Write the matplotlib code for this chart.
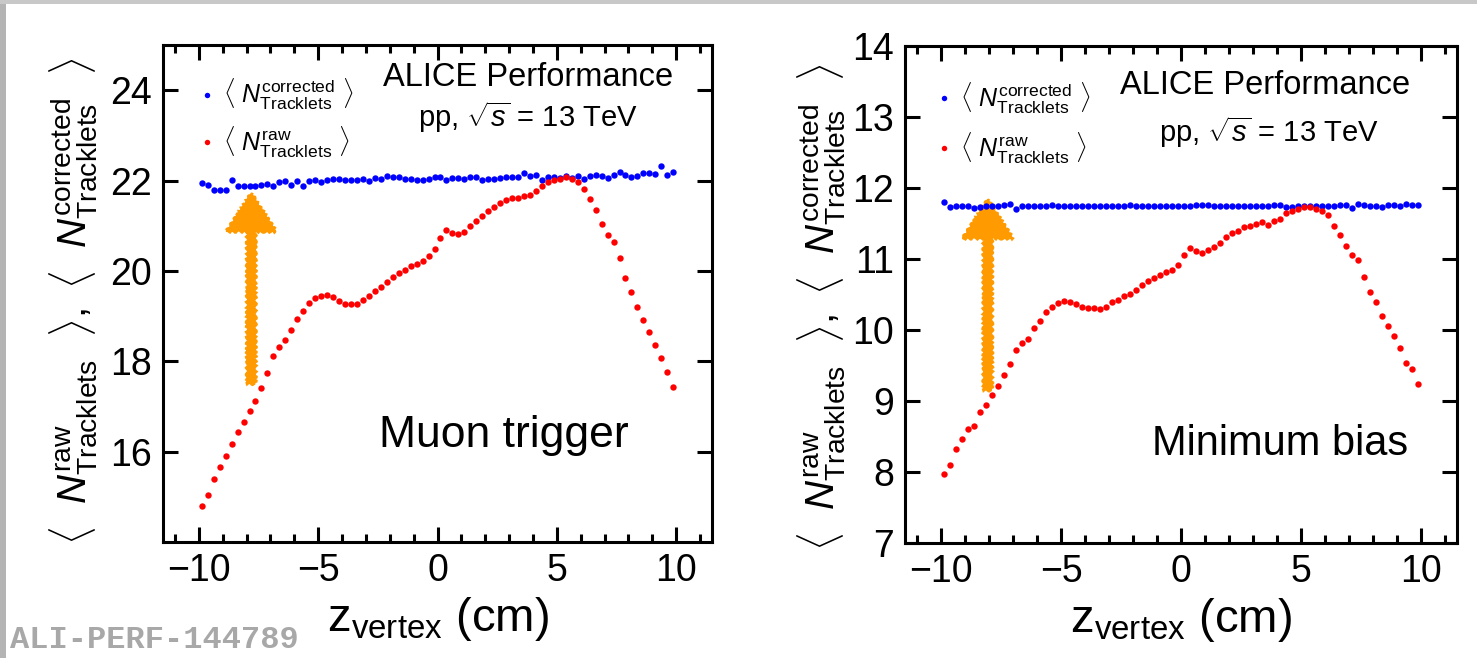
import numpy as np
import matplotlib
matplotlib.use("Agg")
import matplotlib.pyplot as plt
from matplotlib.ticker import MultipleLocator

plt.rcParams['font.family'] = ['Liberation Sans', 'DejaVu Sans']
plt.rcParams['mathtext.fontset'] = 'custom'
plt.rcParams['mathtext.rm'] = 'Liberation Sans'
plt.rcParams['mathtext.it'] = 'Liberation Sans:italic'
plt.rcParams['mathtext.bf'] = 'Liberation Sans:bold'

# ---------------- data ----------------
z_vertex = np.arange(-9.875, 10.0, 0.25)  # 80 bin centres (cm)

muon_raw = [14.79, 15.04, 15.40, 15.67, 15.90, 16.16, 16.43, 16.65, 16.89, 17.13,
            17.41, 17.73, 18.12, 18.32, 18.47, 18.70, 18.93, 19.11, 19.29, 19.41,
            19.44, 19.47, 19.42, 19.34, 19.27, 19.27, 19.27, 19.35, 19.44, 19.55,
            19.64, 19.76, 19.86, 19.95, 20.02, 20.10, 20.16, 20.23, 20.34, 20.48,
            20.73, 20.90, 20.83, 20.81, 20.87, 20.99, 21.11, 21.21, 21.32, 21.42,
            21.50, 21.57, 21.61, 21.62, 21.65, 21.69, 21.76, 21.88, 21.97, 22.02,
            22.04, 22.07, 22.04, 21.96, 21.82, 21.59, 21.35, 21.04, 20.79, 20.63,
            20.28, 19.85, 19.53, 19.21, 18.92, 18.65, 18.36, 18.07, 17.77, 17.42]

muon_corr = [21.95, 21.91, 21.79, 21.79, 21.79, 22.01, 21.87, 21.87, 21.87, 21.87,
             21.90, 21.93, 21.87, 21.97, 21.99, 21.90, 21.99, 21.88, 21.99, 22.01,
             21.97, 22.01, 22.03, 22.03, 22.01, 22.01, 22.01, 22.04, 21.98, 22.05,
             22.04, 22.10, 22.07, 22.07, 22.04, 22.04, 22.01, 22.02, 22.04, 22.08,
             22.07, 22.01, 22.05, 22.05, 22.03, 22.08, 22.08, 22.02, 22.04, 22.04,
             22.06, 22.07, 22.07, 22.07, 22.16, 22.11, 22.13, 22.02, 22.07, 22.07,
             22.05, 22.10, 22.05, 22.11, 22.04, 22.10, 22.12, 22.11, 22.06, 22.12,
             22.19, 22.13, 22.08, 22.11, 22.16, 22.16, 22.15, 22.33, 22.13, 22.19]

mb_raw = [7.97, 8.10, 8.32, 8.47, 8.60, 8.65, 8.85, 8.94, 9.09, 9.21,
          9.37, 9.52, 9.72, 9.81, 9.87, 10.03, 10.13, 10.26, 10.32, 10.38,
          10.41, 10.39, 10.36, 10.33, 10.31, 10.31, 10.29, 10.33, 10.39, 10.42,
          10.48, 10.51, 10.57, 10.63, 10.69, 10.73, 10.77, 10.82, 10.85, 10.92,
          11.05, 11.16, 11.11, 11.09, 11.13, 11.17, 11.23, 11.31, 11.36, 11.40,
          11.45, 11.46, 11.49, 11.52, 11.48, 11.53, 11.56, 11.65, 11.68, 11.71,
          11.73, 11.73, 11.71, 11.68, 11.62, 11.47, 11.34, 11.19, 11.05, 10.98,
          10.75, 10.53, 10.39, 10.20, 10.05, 9.91, 9.74, 9.54, 9.45, 9.24]

mb_corr = [11.80, 11.73, 11.74, 11.74, 11.74, 11.72, 11.73, 11.74, 11.74, 11.75,
           11.76, 11.77, 11.71, 11.75, 11.74, 11.74, 11.74, 11.74, 11.76, 11.74,
           11.74, 11.74, 11.74, 11.75, 11.75, 11.74, 11.75, 11.74, 11.74, 11.74,
           11.75, 11.76, 11.74, 11.74, 11.74, 11.75, 11.74, 11.75, 11.75, 11.75,
           11.74, 11.75, 11.76, 11.76, 11.76, 11.75, 11.75, 11.75, 11.75, 11.75,
           11.74, 11.74, 11.75, 11.75, 11.75, 11.76, 11.76, 11.73, 11.73, 11.75,
           11.75, 11.75, 11.74, 11.74, 11.74, 11.75, 11.76, 11.76, 11.72, 11.77,
           11.76, 11.74, 11.74, 11.73, 11.76, 11.76, 11.74, 11.78, 11.76, 11.76]

panel_names = ["Muon trigger", "Minimum bias"]
x_ticks = [-10, -5, 0, 5, 10]
y_ticks_muon = [16, 18, 20, 22, 24]
y_ticks_mb = [7, 8, 9, 10, 11, 12, 13, 14]

lab_corr = r'$\langle\ N^{\mathrm{corrected}}_{\mathrm{Tracklets}}\ \rangle$'
lab_raw = r'$\langle\ N^{\mathrm{raw}}_{\mathrm{Tracklets}}\ \rangle$'
ylab = (r'$\langle\ \ N^{\mathrm{raw}}_{\mathrm{Tracklets}}\ \ \rangle,\ '
        r'\langle\ \ N^{\mathrm{corrected}}_{\mathrm{Tracklets}}\ \ \rangle$')

W, H = 1477, 658
fig = plt.figure(figsize=(W / 100, H / 100), dpi=100)
fig.patch.set_facecolor('white')

# grey frame strips (screenshot border)
fig.add_artist(plt.Rectangle((0, 0), 6 / W, 1, transform=fig.transFigure,
                             color='#b4b4b4', lw=0, zorder=0))
fig.add_artist(plt.Rectangle((0, 1 - 4 / H), 1, 4 / H, transform=fig.transFigure,
                             color='#c8c8c8', lw=0, zorder=0))

ax1 = fig.add_axes([163 / W, 1 - 542 / H, 549 / W, 497 / H])
ax2 = fig.add_axes([905 / W, 1 - 543 / H, 552 / W, 497 / H])

configs = [
    dict(ax=ax1, corr=muon_corr, raw=muon_raw, ylim=(14, 25),
         yticks=y_ticks_muon, ylabx=-0.115, ylaby=0.485,
         arr=dict(x=-7.8, y0=17.5, y1=21.72, hl=0.85),
         alice=(0.665, 0.935), pp=(0.665, 0.855), name=(0.62, 0.215), namefs=32,
         leg=(0.03, 0.976), ls=0.5),
    dict(ax=ax2, corr=mb_corr, raw=mb_raw, ylim=(7, 14),
         yticks=y_ticks_mb, ylabx=-0.103, ylaby=0.475,
         arr=dict(x=-8.05, y0=9.15, y1=11.84, hl=0.55),
         alice=(0.652, 0.92), pp=(0.66, 0.826), name=(0.68, 0.2), namefs=30,
         leg=(0.021, 0.971), ls=0.6),
]

for k, c in enumerate(configs):
    ax = c['ax']
    hc, = ax.plot(z_vertex, c['corr'], 'o', color='#0000ff', ms=4.6, mew=0, zorder=3)
    hr, = ax.plot(z_vertex, c['raw'], 'o', color='#ff0000', ms=4.6, mew=0, zorder=3)
    ax.set_xlim(-11.5, 11.5)
    ax.set_ylim(*c['ylim'])
    ax.set_xticks(x_ticks)
    ax.set_yticks(c['yticks'])
    ax.xaxis.set_minor_locator(MultipleLocator(1))
    for s in ax.spines.values():
        s.set_linewidth(2.2)
    ax.tick_params(which='both', direction='in', top=True, right=True,
                   labelsize=27, width=2.2, pad=8)
    ax.tick_params(which='major', length=11)
    ax.tick_params(which='minor', length=6)
    ax.set_xlabel(r'$\mathrm{z}_{\mathrm{vertex}}$ (cm)', fontsize=34, labelpad=4)
    ax.set_ylabel(ylab, fontsize=29)
    ax.yaxis.set_label_coords(c['ylabx'], c['ylaby'])

    ax.legend([hc, hr], [lab_corr, lab_raw], loc='upper left',
              bbox_to_anchor=c['leg'], frameon=False, fontsize=18,
              handlelength=0.6, handletextpad=0.35, labelspacing=c['ls'],
              borderaxespad=0.4, markerscale=0.85)

    ax.text(*c['alice'], 'ALICE Performance', transform=ax.transAxes, fontsize=23.5,
            ha='center', va='center')
    ax.text(*c['pp'], r'pp, $\sqrt{s}$ = 13 TeV', transform=ax.transAxes, fontsize=21,
            ha='center', va='center')
    ax.text(*c['name'], panel_names[k], transform=ax.transAxes,
            fontsize=c['namefs'], ha='center', va='center')

    a = c['arr']
    arrow = ax.arrow(a['x'], a['y0'], 0, a['y1'] - a['y0'], width=0.36,
                     head_width=2.1, head_length=a['hl'], length_includes_head=True,
                     color='#ff9a00', lw=1.5, zorder=2)
    arrow.set_sketch_params(1.2, 6, 2)

fig.text(10 / W, 1 - 640 / H, 'ALI-PERF-144789', fontsize=23, family='Liberation Mono',
         weight='bold', color='#a8a8a8', ha='left', va='center')

fig.savefig('out.png', dpi=100)
